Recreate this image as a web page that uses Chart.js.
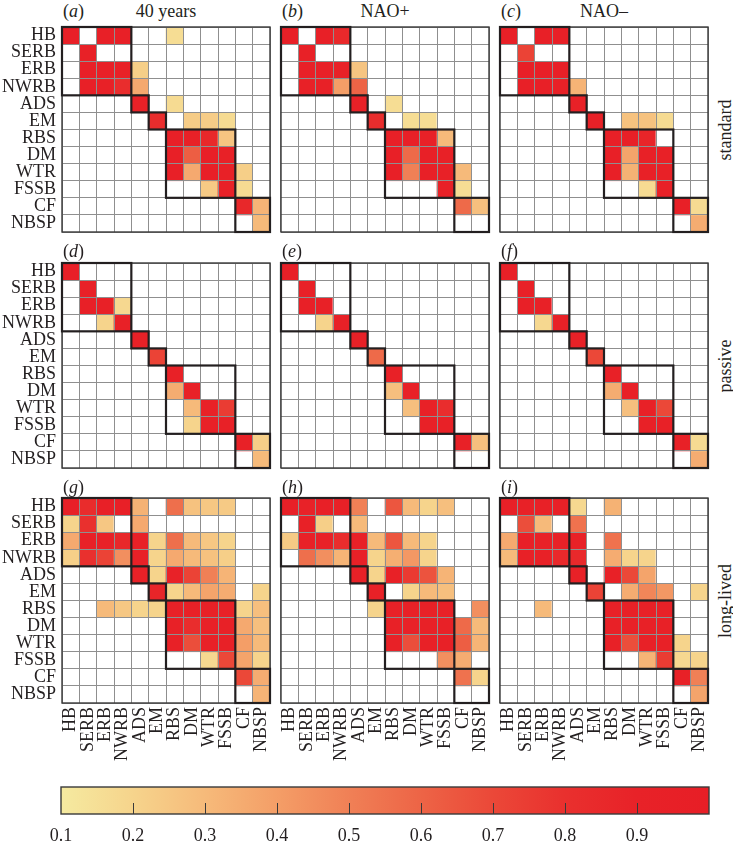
<!DOCTYPE html>
<html lang="en">
<head>
<meta charset="UTF-8">
<title>Cluster co-occurrence matrices</title>
<script src="https://cdn.jsdelivr.net/npm/chart.js"></script>
<style>
  body { margin: 0; background: #fff; }
  #wrap { position: relative; width: 733px; height: 843px; overflow: hidden;
          font-family: "Liberation Serif", "Times New Roman", serif; color: #231f20; }
  .box { position: absolute; }
  .lbl { position: absolute; font-size: 18px; line-height: 18px; white-space: nowrap; }
  .side { position: absolute; font-size: 18px; line-height: 18px; white-space: nowrap;
          transform: translate(-50%, -50%) rotate(-90deg); }
</style>
</head>
<body>
<div id="wrap"></div>
<script>
// region names (rows top->bottom, columns left->right)
const regions = ['HB', 'SERB', 'ERB', 'NWRB', 'ADS', 'EM', 'RBS', 'DM', 'WTR', 'FSSB', 'CF', 'NBSP'];
// black boxes: [first, last] index of each cluster
const clusters = [[0, 3], [4, 4], [5, 5], [6, 9], [10, 11]];

const colTitles = ['40 years', 'NAO+', 'NAO\u2013'];
const rowTitles = ['standard', 'passive', 'long-lived'];
const letters = ['a', 'b', 'c', 'd', 'e', 'f', 'g', 'h', 'i'];

// colour bar
const cbTicks = [0.1, 0.2, 0.3, 0.4, 0.5, 0.6, 0.7, 0.8, 0.9];
const cbMin = 0.1, cbMax = 1.0;
const cmapStops = [0.1, 0.2, 0.3, 0.4, 0.5, 0.6, 0.7, 0.8, 0.9, 1.0];
const cmapColors = [[245,234,160],[246,212,140],[246,186,122],[244,158,103],[240,128,86],
                    [237,100,70],[235,72,56],[233,48,46],[232,34,40],[231,30,38]];

// (a) standard, 40 years
const std40 = [
  [.95,0,.95,.95,0,0,.16,0,0,0,0,0],
  [0,.93,0,0,0,0,0,0,0,0,0,0],
  [0,.95,.95,.93,.22,0,0,0,0,0,0,0],
  [0,.95,.93,.82,.36,0,0,0,0,0,0,0],
  [0,0,0,0,.93,0,.17,0,0,0,0,0],
  [0,0,0,0,0,.82,0,.23,.23,.17,0,0],
  [0,0,0,0,0,0,.95,.93,.86,.26,0,0],
  [0,0,0,0,0,0,.95,.62,.95,.93,0,0],
  [0,0,0,0,0,0,.95,.36,.95,.93,.22,0],
  [0,0,0,0,0,0,0,0,.24,.93,.17,0],
  [0,0,0,0,0,0,0,0,0,0,.86,.32],
  [0,0,0,0,0,0,0,0,0,0,0,.3]
];
// (b) standard, NAO+
const stdPos = [
  [.95,0,.95,.85,0,0,0,0,0,0,0,0],
  [0,.93,0,0,0,0,0,0,0,0,0,0],
  [0,.95,.95,.93,.26,0,0,0,0,0,0,0],
  [0,.93,.93,.4,.6,0,0,0,0,0,0,0],
  [0,0,0,0,.93,0,.16,0,0,0,0,0],
  [0,0,0,0,0,.82,0,.16,.16,0,0,0],
  [0,0,0,0,0,0,.95,.95,.93,.3,0,0],
  [0,0,0,0,0,0,.95,.58,.95,.93,0,0],
  [0,0,0,0,0,0,.95,.5,.95,.93,.3,0],
  [0,0,0,0,0,0,0,0,0,.93,.16,0],
  [0,0,0,0,0,0,0,0,0,0,.58,.28],
  [0,0,0,0,0,0,0,0,0,0,0,0]
];
// (c) standard, NAO-
const stdNeg = [
  [.95,0,.95,.95,0,0,0,0,0,0,0,0],
  [0,.72,0,0,0,0,0,0,0,0,0,0],
  [0,.95,.95,.95,0,0,0,0,0,0,0,0],
  [0,.95,.95,.93,.32,0,0,0,0,0,0,0],
  [0,0,0,0,.93,0,0,0,0,0,0,0],
  [0,0,0,0,0,.93,0,.27,.27,.17,0,0],
  [0,0,0,0,0,0,.95,.95,.88,0,0,0],
  [0,0,0,0,0,0,.95,.38,.93,.93,0,0],
  [0,0,0,0,0,0,.95,.33,.93,.93,0,0],
  [0,0,0,0,0,0,0,0,.17,.93,0,0],
  [0,0,0,0,0,0,0,0,0,0,.95,.17],
  [0,0,0,0,0,0,0,0,0,0,0,.35]
];
// (d) passive, 40 years
const pas40 = [
  [.95,0,0,0,0,0,0,0,0,0,0,0],
  [0,.93,0,0,0,0,0,0,0,0,0,0],
  [0,.95,.93,.18,0,0,0,0,0,0,0,0],
  [0,0,.2,.93,0,0,0,0,0,0,0,0],
  [0,0,0,0,.93,0,0,0,0,0,0,0],
  [0,0,0,0,0,.72,0,0,0,0,0,0],
  [0,0,0,0,0,0,.93,0,0,0,0,0],
  [0,0,0,0,0,0,.35,.93,0,0,0,0],
  [0,0,0,0,0,0,0,.3,.93,.75,0,0],
  [0,0,0,0,0,0,0,.2,.93,.93,0,0],
  [0,0,0,0,0,0,0,0,0,0,.93,.22],
  [0,0,0,0,0,0,0,0,0,0,0,.3]
];
// (e) passive, NAO+
const pasPos = [
  [.95,0,0,0,0,0,0,0,0,0,0,0],
  [0,.93,0,0,0,0,0,0,0,0,0,0],
  [0,.95,.93,0,0,0,0,0,0,0,0,0],
  [0,0,.2,.93,0,0,0,0,0,0,0,0],
  [0,0,0,0,.93,0,0,0,0,0,0,0],
  [0,0,0,0,0,.58,0,0,0,0,0,0],
  [0,0,0,0,0,0,.93,0,0,0,0,0],
  [0,0,0,0,0,0,.28,.93,0,0,0,0],
  [0,0,0,0,0,0,0,.28,.93,.82,0,0],
  [0,0,0,0,0,0,0,0,.93,.93,0,0],
  [0,0,0,0,0,0,0,0,0,0,.93,.28],
  [0,0,0,0,0,0,0,0,0,0,0,0]
];
// (f) passive, NAO-
const pasNeg = [
  [.95,0,0,0,0,0,0,0,0,0,0,0],
  [0,.93,0,0,0,0,0,0,0,0,0,0],
  [0,.95,.93,0,0,0,0,0,0,0,0,0],
  [0,0,.18,.93,0,0,0,0,0,0,0,0],
  [0,0,0,0,.93,0,0,0,0,0,0,0],
  [0,0,0,0,0,.7,0,0,0,0,0,0],
  [0,0,0,0,0,0,.93,0,0,0,0,0],
  [0,0,0,0,0,0,.35,.93,0,0,0,0],
  [0,0,0,0,0,0,0,.28,.93,.7,0,0],
  [0,0,0,0,0,0,0,0,.93,.93,0,0],
  [0,0,0,0,0,0,0,0,0,0,.93,.17],
  [0,0,0,0,0,0,0,0,0,0,0,.35]
];
// (g) long-lived, 40 years
const long40 = [
  [.95,.83,.95,.95,.33,0,.56,.27,.25,.24,0,0],
  [.2,.8,.25,0,.36,0,0,0,0,0,0,0],
  [.36,.93,.93,.86,.93,.2,.56,.3,.25,.2,0,0],
  [.22,.8,.72,.45,.93,.2,.36,.3,.27,.22,0,0],
  [0,0,0,0,.93,.2,.9,.72,.5,.32,0,0],
  [0,0,0,0,0,.88,.2,.3,.38,.35,0,.2],
  [0,0,.3,.25,.2,.2,.93,.93,.93,.93,.2,.28],
  [0,0,0,0,0,0,.93,.82,.93,.93,.36,.28],
  [0,0,0,0,0,0,.93,.68,.93,.93,.4,.3],
  [0,0,0,0,0,0,0,0,.18,.7,.38,.2],
  [0,0,0,0,0,0,0,0,0,0,.7,.35],
  [0,0,0,0,0,0,0,0,0,0,0,.32]
];
// (h) long-lived, NAO+
const longPos = [
  [.95,.9,.95,.93,.5,0,.65,.3,.2,.28,0,0],
  [0,.93,.22,0,.3,0,0,0,0,0,0,0],
  [.24,.93,.93,.82,.93,.3,.65,.3,.2,0,0,0],
  [0,.56,.45,.32,.93,.2,.34,.42,.2,0,0,0],
  [0,0,0,0,.93,.2,.93,.76,.66,.32,0,0],
  [0,0,0,0,0,.93,0,.2,.3,.28,0,0],
  [0,0,0,0,0,.2,.93,.93,.93,.93,0,.45],
  [0,0,0,0,0,0,.93,.9,.93,.93,.58,.3],
  [0,0,0,0,0,0,.93,.68,.93,.93,.62,.32],
  [0,0,0,0,0,0,0,0,0,.45,.35,0],
  [0,0,0,0,0,0,0,0,0,0,.55,.2],
  [0,0,0,0,0,0,0,0,0,0,0,0]
];
// (i) long-lived, NAO-
const longNeg = [
  [.95,.93,.93,.93,.18,0,.33,0,0,0,0,0],
  [0,.68,.3,0,.55,0,0,0,0,0,0,0],
  [.36,.95,.93,.93,.93,0,.55,0,0,0,0,0],
  [.3,.93,.93,.85,.85,0,.35,.2,.2,0,0,0],
  [0,0,0,0,.93,0,.93,.7,.38,0,0,0],
  [0,0,0,0,0,.72,0,.35,.48,.42,0,.2],
  [0,0,.3,0,0,0,.93,.93,.93,.93,0,0],
  [0,0,0,0,0,0,.93,.93,.93,.93,0,0],
  [0,0,0,0,0,0,.93,.68,.93,.93,.2,0],
  [0,0,0,0,0,0,0,0,.32,.75,.18,.2],
  [0,0,0,0,0,0,0,0,0,0,.93,.5],
  [0,0,0,0,0,0,0,0,0,0,0,.38]
];

const panels = [[std40, stdPos, stdNeg], [pas40, pasPos, pasNeg], [long40, longPos, longNeg]];

// ---- layout ----
const PX = [62, 281, 500], PY = [27, 263, 498];
const PW = 208, PH = 205;
const YAXIS_W = 60, XAXIS_H = 70;
const textCol = '#231f20', gridCol = '#8f8f8f';
const font = { family: '"Liberation Serif", "Times New Roman", serif', size: 18 };

const wrap = document.getElementById('wrap');

function cellColor(v) {
  if (!v) return '#ffffff';
  let i = 0;
  while (i < cmapStops.length - 2 && v > cmapStops[i + 1]) i++;
  const t = Math.min(1, Math.max(0, (v - cmapStops[i]) / (cmapStops[i + 1] - cmapStops[i])));
  const c = cmapColors[i].map((c0, k) => Math.round(c0 + (cmapColors[i + 1][k] - c0) * t));
  return `rgb(${c.join(',')})`;
}

const clusterBoxes = {
  id: 'clusterBoxes',
  afterDraw(chart) {
    const { ctx, chartArea: a, scales: { x, y } } = chart;
    const half = (x.getPixelForValue(1) - x.getPixelForValue(0)) / 2;
    ctx.save();
    ctx.strokeStyle = '#3a3a3a';
    ctx.lineWidth = 1.4;
    ctx.strokeRect(a.left, a.top, a.width, a.height);
    ctx.strokeStyle = textCol;
    ctx.lineWidth = 2.2;
    clusters.forEach(([s, e]) => {
      const x0 = x.getPixelForValue(s) - half, x1 = x.getPixelForValue(e) + half;
      const y0 = y.getPixelForValue(s), y1 = y.getPixelForValue(e + 1);
      ctx.strokeRect(x0, y0, x1 - x0, y1 - y0);
    });
    ctx.restore();
  }
};

function addLabel(html, left, top, cls) {
  const d = document.createElement('div');
  d.className = cls || 'lbl';
  d.innerHTML = html;
  d.style.left = left + 'px';
  d.style.top = top + 'px';
  wrap.appendChild(d);
  return d;
}

function drawPanel(r, c) {
  const matrix = panels[r][c];
  const isLeft = c === 0, isBottom = r === 2;
  const yw = isLeft ? YAXIS_W : 0, xh = isBottom ? XAXIS_H : 0;
  const box = document.createElement('div');
  box.className = 'box';
  box.style.left = (PX[c] - 2 - yw) + 'px';
  box.style.top = (PY[r] - 2) + 'px';
  const cv = document.createElement('canvas');
  cv.width = yw + PW + 4;
  cv.height = PH + 4 + xh;
  box.appendChild(cv);
  wrap.appendChild(box);

  const halfSteps = [];
  for (let i = 0; i <= 24; i++) halfSteps.push(i / 2);

  new Chart(cv, {
    type: 'bar',
    data: {
      labels: regions,
      datasets: matrix.map((row, k) => ({
        label: regions[k],
        data: regions.map(() => 1),
        backgroundColor: row.map(cellColor),
        borderWidth: 0,
        barPercentage: 1,
        categoryPercentage: 1
      }))
    },
    options: {
      responsive: false,
      animation: false,
      layout: { padding: { left: 2, right: 2, top: 2, bottom: 2 } },
      plugins: { legend: { display: false }, tooltip: { enabled: false } },
      scales: {
        x: {
          stacked: true,
          grid: { z: 1, drawTicks: false, color: gridCol, lineWidth: 1, offset: true },
          border: { display: false },
          ticks: { display: isBottom, autoSkip: false, maxRotation: 90, minRotation: 90,
                   font: font, color: textCol, padding: 4 },
          afterFit: s => { s.height = xh; s.paddingLeft = 0; s.paddingRight = 0; }
        },
        y: {
          stacked: true,
          reverse: true,
          min: 0,
          max: 12,
          afterBuildTicks: s => { s.ticks = halfSteps.map(v => ({ value: v })); },
          grid: { z: 1, drawTicks: false, lineWidth: 1,
                  color: ctx => (ctx.tick && ctx.tick.value % 1 === 0) ? gridCol : 'rgba(0,0,0,0)' },
          border: { display: false },
          ticks: { display: isLeft, autoSkip: false, font: font, color: textCol, padding: 6,
                   callback: v => (v % 1 ? regions[Math.floor(v)] : '') },
          afterFit: s => { s.width = yw; s.paddingTop = 0; s.paddingBottom = 0; }
        }
      }
    },
    plugins: [clusterBoxes]
  });
}

for (let r = 0; r < 3; r++) {
  for (let c = 0; c < 3; c++) drawPanel(r, c);
}

// panel letters and titles
const letterY = [2, 242, 478];
for (let r = 0; r < 3; r++) {
  for (let c = 0; c < 3; c++) {
    addLabel('(<i>' + letters[r * 3 + c] + '</i>)', PX[c] + 1, letterY[r]);
  }
}
colTitles.forEach((t, c) => {
  const d = addLabel(t, PX[c] + PW / 2, 2);
  d.style.transform = 'translateX(-50%)';
});
rowTitles.forEach((t, r) => {
  addLabel(t, 725, PY[r] + PH / 2, 'side');
});

// ---- colour bar ----
const CB = { left: 61, top: 787, width: 648, height: 27 };
const cbBox = document.createElement('div');
cbBox.className = 'box';
cbBox.style.left = (CB.left - 20) + 'px';
cbBox.style.top = (CB.top - 2) + 'px';
const cbCanvas = document.createElement('canvas');
cbCanvas.width = CB.width + 40;
cbCanvas.height = CB.height + 2 + 42;
cbBox.appendChild(cbCanvas);
wrap.appendChild(cbBox);

const cbFrame = {
  id: 'cbFrame',
  afterDraw(chart) {
    const { ctx, chartArea: a, scales: { x } } = chart;
    ctx.save();
    ctx.strokeStyle = '#3a3a3a';
    ctx.lineWidth = 1;
    cbTicks.slice(1).forEach(v => {
      const px = Math.round(x.getPixelForValue(v)) + 0.5;
      ctx.beginPath();
      ctx.moveTo(px, a.bottom);
      ctx.lineTo(px, a.bottom - 11);
      ctx.stroke();
    });
    ctx.lineWidth = 1.4;
    ctx.strokeRect(a.left, a.top, a.width, a.height);
    ctx.restore();
  }
};

new Chart(cbCanvas, {
  type: 'bar',
  data: {
    labels: ['scale'],
    datasets: [{
      data: [[cbMin, cbMax]],
      borderWidth: 0,
      barPercentage: 1,
      categoryPercentage: 1,
      backgroundColor: ctx => {
        const ch = ctx.chart;
        if (!ch.chartArea) return '#ffffff';
        const x = ch.scales.x;
        const g = ch.ctx.createLinearGradient(x.getPixelForValue(cbMin), 0, x.getPixelForValue(cbMax), 0);
        cmapStops.forEach((s, i) => g.addColorStop((s - cbMin) / (cbMax - cbMin), `rgb(${cmapColors[i].join(',')})`));
        return g;
      }
    }]
  },
  options: {
    indexAxis: 'y',
    responsive: false,
    animation: false,
    layout: { padding: { left: 20, right: 20, top: 2, bottom: 0 } },
    plugins: { legend: { display: false }, tooltip: { enabled: false } },
    scales: {
      x: {
        min: cbMin,
        max: cbMax,
        afterBuildTicks: s => { s.ticks = cbTicks.map(v => ({ value: v })); },
        grid: { display: false, drawTicks: false },
        border: { display: false },
        ticks: { font: font, color: textCol, padding: 11, autoSkip: false, maxRotation: 0,
                 callback: v => v.toFixed(1) },
        afterFit: s => { s.height = 42; s.paddingLeft = 0; s.paddingRight = 0; }
      },
      y: { display: false }
    }
  },
  plugins: [cbFrame]
});
</script>
</body>
</html>
